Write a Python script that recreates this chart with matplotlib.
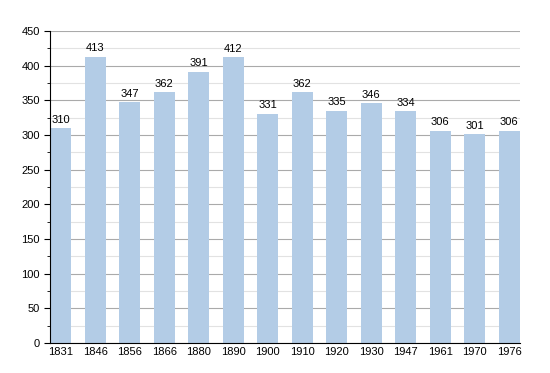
import matplotlib.pyplot as plt
import numpy as np

plt.rcParams['font.family'] = ['Liberation Sans', 'DejaVu Sans']

years = ["1831", "1846", "1856", "1866", "1880", "1890", "1900",
         "1910", "1920", "1930", "1947", "1961", "1970", "1976"]
population = [310, 413, 347, 362, 391, 412, 331, 362, 335, 346, 334, 306, 301, 306]

fig = plt.figure(figsize=(5.5, 3.73), dpi=100)
ax = fig.add_axes([0.091, 0.080, 0.854, 0.837])

x = np.arange(len(years))
w = 0.61
ax.bar(x, population, width=w, color='#b3cce6', zorder=2)

# value labels above each bar
for xi, v in zip(x, population):
    ax.text(xi, v + 5, str(v), ha='center', va='bottom', fontsize=8, zorder=3)

ax.set_xlim(-w / 2, len(years) - 1 + w / 2)
ax.set_ylim(0, 450)
ax.set_yticks(np.arange(0, 451, 50))
ax.set_yticks(np.arange(25, 450, 50), minor=True)
ax.set_xticks(x)
ax.set_xticklabels(years)
ax.tick_params(axis='both', labelsize=8, length=4)
ax.tick_params(axis='x', length=0, pad=3)
ax.tick_params(axis='y', which='minor', length=2)

ax.grid(axis='y', which='major', color='#aaaaaa', linewidth=0.8, zorder=0)
ax.grid(axis='y', which='minor', color='#e2e2e2', linewidth=0.8, zorder=0)
ax.spines['top'].set_visible(False)
ax.spines['right'].set_visible(False)

plt.savefig("out.png", dpi=100)
